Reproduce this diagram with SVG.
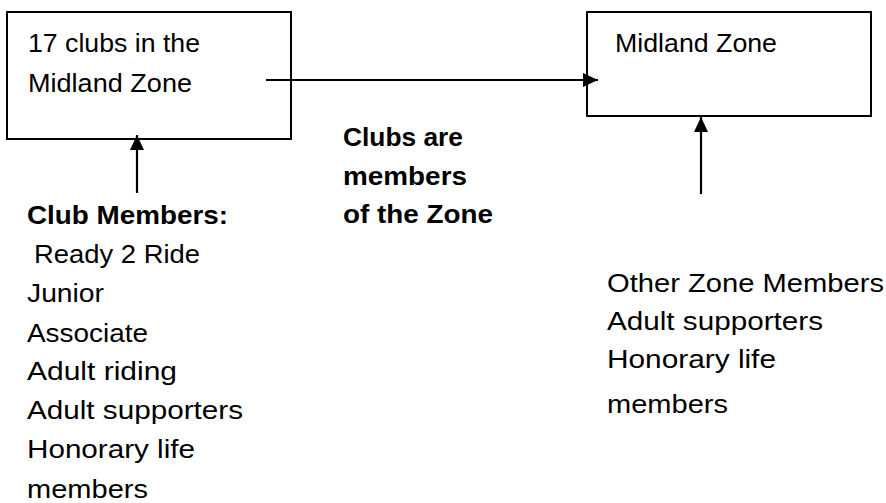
<svg xmlns="http://www.w3.org/2000/svg" width="886" height="503" viewBox="0 0 886 503">
<defs>
<style>
.box{fill:#fff;stroke:#000;stroke-width:2}
.t{font-family:"Liberation Sans",Arial,sans-serif;font-size:26px;fill:#000}
.b{font-weight:bold}
.c{stroke:#000;stroke-width:2.2;fill:none}
</style>
<marker id="ah" markerUnits="userSpaceOnUse" markerWidth="16" markerHeight="16" viewBox="0 0 16 16" refX="15" refY="8" orient="auto">
<path d="M0,1 L15,8 L0,15 Z" fill="#000"/>
</marker>
</defs>
<rect width="886" height="503" fill="#fff"/>
<g id="clubs">
<rect class="box" x="7" y="12" width="284" height="127"/>
<text class="t" x="28" y="52" textLength="172" lengthAdjust="spacingAndGlyphs">17 clubs in the</text>
<text class="t" x="28" y="92" textLength="164" lengthAdjust="spacingAndGlyphs">Midland Zone</text>
</g>
<g id="zone">
<rect class="box" x="587" y="12" width="284" height="104"/>
<text class="t" x="615" y="52" textLength="162" lengthAdjust="spacingAndGlyphs">Midland Zone</text>
</g>
<g id="connectors">
<line class="c" x1="266" y1="80" x2="598" y2="80" marker-end="url(#ah)"/>
<line class="c" x1="137" y1="193" x2="137" y2="135" marker-end="url(#ah)"/>
<line class="c" x1="701" y1="194" x2="701" y2="117" marker-end="url(#ah)"/>
</g>
<g id="label-clubs-are">
<text class="t b" x="343" y="146" textLength="120" lengthAdjust="spacingAndGlyphs">Clubs are</text>
<text class="t b" x="343" y="185" textLength="124" lengthAdjust="spacingAndGlyphs">members</text>
<text class="t b" x="343" y="223" textLength="150" lengthAdjust="spacingAndGlyphs">of the Zone</text>
</g>
<g id="club-members">
<text class="t b" x="27" y="224" textLength="201" lengthAdjust="spacingAndGlyphs">Club Members:</text>
<text class="t" x="34" y="263" textLength="166" lengthAdjust="spacingAndGlyphs">Ready 2 Ride</text>
<text class="t" x="27" y="302" textLength="77" lengthAdjust="spacingAndGlyphs">Junior</text>
<text class="t" x="27" y="342" textLength="121" lengthAdjust="spacingAndGlyphs">Associate</text>
<text class="t" x="27" y="380" textLength="150" lengthAdjust="spacingAndGlyphs">Adult riding</text>
<text class="t" x="27" y="419" textLength="216" lengthAdjust="spacingAndGlyphs">Adult supporters</text>
<text class="t" x="27" y="458" textLength="168" lengthAdjust="spacingAndGlyphs">Honorary life</text>
<text class="t" x="27" y="498" textLength="121" lengthAdjust="spacingAndGlyphs">members</text>
</g>
<g id="other-members">
<text class="t" x="607" y="292" textLength="277" lengthAdjust="spacingAndGlyphs">Other Zone Members</text>
<text class="t" x="607" y="330" textLength="216" lengthAdjust="spacingAndGlyphs">Adult supporters</text>
<text class="t" x="607" y="368" textLength="169" lengthAdjust="spacingAndGlyphs">Honorary life</text>
<text class="t" x="607" y="413" textLength="121" lengthAdjust="spacingAndGlyphs">members</text>
</g>
</svg>
